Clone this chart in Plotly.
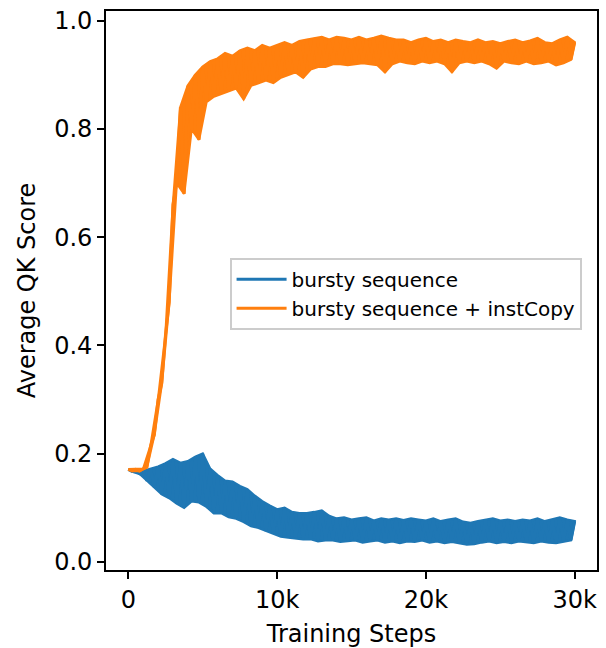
import plotly.graph_objects as go

# Training steps at which envelope values were read (hi at multiples of 500, lo offset by 250)
steps_hi = [i * 500 for i in range(61)]
steps_lo = [250 + i * 500 for i in range(60)]

orange_hi = [0.171, 0.171, 0.172, 0.215, 0.30, 0.42, 0.66, 0.84, 0.88, 0.90,
             0.915, 0.925, 0.93, 0.94, 0.935, 0.945, 0.95, 0.945, 0.955, 0.95,
             0.955, 0.96, 0.955, 0.962, 0.965, 0.968, 0.97, 0.965, 0.97, 0.968,
             0.965, 0.97, 0.965, 0.968, 0.972, 0.968, 0.965, 0.965, 0.96, 0.965,
             0.968, 0.962, 0.965, 0.96, 0.965, 0.962, 0.96, 0.965, 0.96, 0.962,
             0.958, 0.962, 0.965, 0.96, 0.963, 0.968, 0.96, 0.958, 0.965, 0.97,
             0.96]
orange_lo = [0.168, 0.168, 0.175, 0.235, 0.33, 0.48, 0.70, 0.68, 0.80, 0.78,
             0.85, 0.86, 0.865, 0.87, 0.875, 0.855, 0.88, 0.885, 0.89, 0.885,
             0.895, 0.90, 0.905, 0.895, 0.91, 0.915, 0.915, 0.92, 0.92, 0.918,
             0.92, 0.922, 0.92, 0.918, 0.905, 0.92, 0.925, 0.922, 0.92, 0.925,
             0.922, 0.925, 0.92, 0.905, 0.922, 0.925, 0.922, 0.925, 0.92, 0.912,
             0.925, 0.922, 0.92, 0.925, 0.92, 0.922, 0.925, 0.918, 0.922, 0.928]

blue_hi = [0.171, 0.168, 0.168, 0.172, 0.176, 0.182, 0.19, 0.183, 0.186, 0.194,
           0.20, 0.172, 0.16, 0.15, 0.148, 0.14, 0.134, 0.122, 0.112, 0.104,
           0.097, 0.10, 0.092, 0.09, 0.09, 0.092, 0.095, 0.085, 0.08, 0.082,
           0.078, 0.08, 0.082, 0.076, 0.08, 0.078, 0.08, 0.077, 0.08, 0.078,
           0.076, 0.08, 0.075, 0.078, 0.08, 0.074, 0.072, 0.075, 0.078, 0.08,
           0.076, 0.078, 0.075, 0.078, 0.076, 0.08, 0.075, 0.078, 0.082, 0.078,
           0.075]
blue_lo = [0.167, 0.163, 0.15, 0.138, 0.125, 0.118, 0.108, 0.10, 0.112, 0.11,
           0.102, 0.09, 0.09, 0.083, 0.08, 0.074, 0.066, 0.063, 0.057, 0.052,
           0.047, 0.045, 0.043, 0.042, 0.042, 0.038, 0.04, 0.04, 0.037, 0.038,
           0.04, 0.036, 0.038, 0.04, 0.036, 0.038, 0.035, 0.038, 0.037, 0.04,
           0.036, 0.038, 0.035, 0.037, 0.034, 0.032, 0.033, 0.036, 0.038, 0.035,
           0.037, 0.035, 0.038, 0.036, 0.035, 0.038, 0.036, 0.035, 0.038, 0.04]

series_names = ["bursty sequence", "bursty sequence + instCopy"]
series_colors = ["#1f77b4", "#ff7f0e"]

x_tickvals = [0, 10000, 20000, 30000]
x_ticktext = ["0", "10k", "20k", "30k"]
y_tickvals = [0.0, 0.2, 0.4, 0.6, 0.8, 1.0]


def interleave(hi, lo):
    xs, ys = [], []
    for i in range(len(lo)):
        xs += [steps_hi[i], steps_lo[i]]
        ys += [hi[i], lo[i]]
    xs.append(steps_hi[-1])
    ys.append(hi[-1])
    return xs, ys


def band(hi, lo):
    xs = list(steps_hi) + list(reversed(steps_lo))
    ys = list(hi) + list(reversed(lo))
    return xs, ys


FONT = "DejaVu Sans"
fig = go.Figure()
for (hi, lo), name, color in zip([(blue_hi, blue_lo), (orange_hi, orange_lo)], series_names, series_colors):
    bx, by = band(hi, lo)
    fig.add_trace(go.Scatter(x=bx, y=by, mode="lines", fill="toself", fillcolor=color,
                             line=dict(color=color, width=2.5), showlegend=False,
                             hoverinfo="skip"))
    xs, ys = interleave(hi, lo)
    fig.add_trace(go.Scatter(x=xs, y=ys, mode="lines", name=name,
                             line=dict(color=color, width=3)))

axis_common = dict(showgrid=False, zeroline=False, showline=True, linecolor="black",
                   linewidth=1.6, mirror=True, ticks="outside", ticklen=7, tickwidth=1.6,
                   tickcolor="black", automargin=False,
                   tickfont=dict(family=FONT, size=24, color="black"))

fig.update_layout(
    width=606, height=648,
    margin=dict(l=106, r=9, t=11, b=78),
    paper_bgcolor="white", plot_bgcolor="white",
    font=dict(family=FONT, color="black"),
    xaxis=dict(range=[-1500, 31500], tickvals=x_tickvals, ticktext=x_ticktext,
               title=dict(text="Training Steps", font=dict(family=FONT, size=24, color="black"), standoff=13),
               **axis_common),
    yaxis=dict(range=[-0.015, 1.018], tickvals=y_tickvals, tickformat=".1f",
               title=dict(text="Average QK Score", font=dict(family=FONT, size=24, color="black"), standoff=12),
               **axis_common),
    legend=dict(x=0.2525, y=0.558, xanchor="left", yanchor="top",
                bgcolor="rgba(255,255,255,0.8)", bordercolor="#cccccc", borderwidth=1.6,
                itemwidth=50,
                font=dict(family=FONT, size=20, color="black")),
    showlegend=True,
)

fig.write_html("out.html")
